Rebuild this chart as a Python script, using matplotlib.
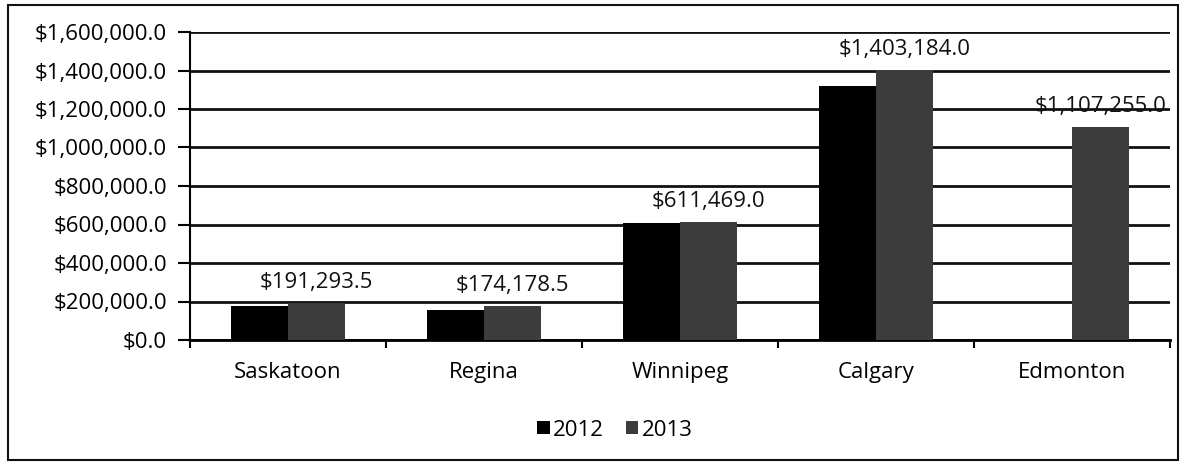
import matplotlib
matplotlib.use("Agg")
import matplotlib.pyplot as plt
import matplotlib.patches as mpatches
import numpy as np

cities = ["Saskatoon", "Regina", "Winnipeg", "Calgary", "Edmonton"]
values_2012 = [175000, 155000, 608000, 1321000, 0]
values_2013 = [191293.5, 174178.5, 611469.0, 1403184.0, 1107255.0]
series_names = ["2012", "2013"]
yticks = [0, 200000, 400000, 600000, 800000, 1000000, 1200000, 1400000, 1600000]

plt.rcParams['font.family'] = ['Open Sans', 'DejaVu Sans']
FS = 16

fig = plt.figure(figsize=(11.84, 4.66), dpi=100)
ax = fig.add_axes([190/1184, 126/466, 980/1184, 308/466])

x = np.arange(len(cities))
w = 0.29
b1 = ax.bar(x - w/2, values_2012, w, color="#000000", label=series_names[0], zorder=3)
b2 = ax.bar(x + w/2, values_2013, w, color="#3c3c3c", label=series_names[1], zorder=3)

for xi, v in zip(x, values_2013):
    ax.annotate(f"${v:,.1f}", (xi + w/2, v), xytext=(0, 11), textcoords="offset points",
                ha="center", va="baseline", fontsize=FS, color="#111111", zorder=4)

ax.set_xlim(-0.5, len(cities) - 0.5)
ax.set_ylim(0, 1600000)
ax.set_yticks(yticks)
ax.set_yticklabels([f"${v:,.1f}" for v in yticks], fontsize=FS)
ax.set_xticks(x)
ax.set_xticklabels(cities, fontsize=FS)
ax.set_xticks(np.arange(len(cities) + 1) - 0.5, minor=True)
ax.tick_params(axis="x", which="major", length=0, pad=16)
ax.tick_params(axis="x", which="minor", length=6, width=1.5, direction="out")
ax.tick_params(axis="y", length=8.5, width=1.5, direction="out", pad=8)
ax.grid(axis="y", color="#111111", linewidth=2, zorder=0)
for s in ["top", "right"]:
    ax.spines[s].set_visible(False)
ax.spines["left"].set_linewidth(1.5)
ax.spines["bottom"].set_linewidth(2)
ax.set_axisbelow(True)

fig.legend(handles=[b1, b2], labels=series_names, loc="center", bbox_to_anchor=(615/1184, 1 - 430/466),
           ncol=2, frameon=False, fontsize=FS, handlelength=0.55, handleheight=0.55,
           handletextpad=0.15, columnspacing=1.0)

fig.patches.append(mpatches.Rectangle((8/1184, 6/466), 1170/1184, 455/466, transform=fig.transFigure,
                                      fill=False, edgecolor="#111111", linewidth=1.5))

fig.savefig("out.png", dpi=100)
